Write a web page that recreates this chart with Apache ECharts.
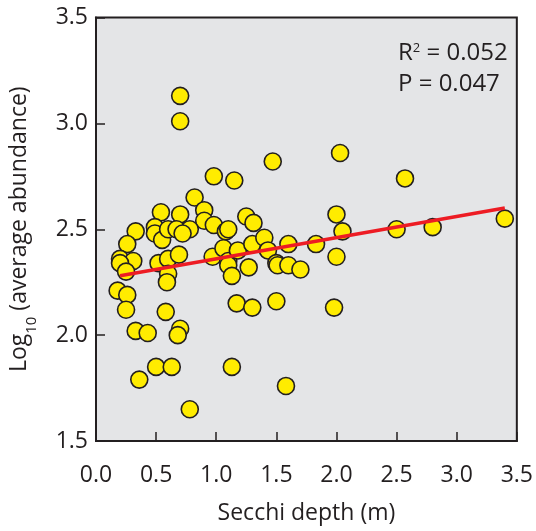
<!DOCTYPE html>
<html>
<head>
<meta charset="utf-8">
<script src="https://cdn.jsdelivr.net/npm/echarts@6/dist/echarts.min.js"></script>
<style>html,body{margin:0;padding:0;background:#fff}#c{width:536px;height:531px}</style>
</head>
<body>
<div id="c"></div>
<script>
// Secchi depth (m)
const secchi = [0.70,0.70,0.98,1.15,1.47,2.03,2.57,0.82,0.90,0.54,0.70,0.90,1.25,1.31,0.98,0.33,0.49,0.49,0.55,0.60,0.67,0.78,1.08,1.10,0.26,0.20,0.31,0.20,0.52,0.60,0.69,0.25,0.60,0.59,0.18,0.26,0.25,0.58,0.33,0.43,0.70,0.68,0.50,0.63,0.36,0.78,1.13,1.58,1.17,1.30,1.50,0.97,1.06,1.10,1.10,1.13,1.18,1.27,1.30,1.40,1.43,1.50,1.51,1.60,1.60,1.70,1.83,2.00,2.05,2.00,1.98,2.50,2.80,3.40,0.72];
// Log10 (average abundance)
const logAbundance = [3.13,3.01,2.75,2.73,2.82,2.86,2.74,2.65,2.59,2.58,2.57,2.54,2.56,2.53,2.52,2.49,2.51,2.48,2.45,2.50,2.50,2.50,2.49,2.50,2.43,2.36,2.35,2.34,2.34,2.36,2.38,2.30,2.29,2.25,2.21,2.19,2.12,2.11,2.02,2.01,2.03,2.00,1.85,1.85,1.79,1.65,1.85,1.76,2.15,2.13,2.16,2.37,2.41,2.35,2.33,2.28,2.40,2.32,2.43,2.46,2.40,2.34,2.33,2.43,2.33,2.31,2.43,2.57,2.49,2.37,2.13,2.50,2.51,2.55,2.48];
// regression line endpoints
const fitX = [0.2, 3.4];
const fitY = [2.28, 2.60];
const xTicks = [0.0,0.5,1.0,1.5,2.0,2.5,3.0,3.5];
const yTicks = [1.5,2.0,2.5,3.0,3.5];
const statR2 = '0.052';
const statP = '0.047';

const FONT = 'Open Sans';
const INK = '#231f20';
const chart = echarts.init(document.getElementById('c'), null, {renderer:'canvas'});
chart.setOption({
  animation:false,
  backgroundColor:'#ffffff',
  grid:{left:93,right:18,top:17.5,bottom:90,show:true,backgroundColor:'#e4e5e7',borderColor:INK,borderWidth:2},
  xAxis:{
    type:'value',min:0,max:3.5,interval:0.5,
    name:'Secchi depth (m)',nameLocation:'middle',nameGap:61,
    nameTextStyle:{fontFamily:FONT,fontSize:23,color:INK},
    axisLine:{show:true,lineStyle:{color:INK,width:2}},
    axisTick:{show:true,inside:true,length:9,lineStyle:{color:INK,width:1.5}},
    axisLabel:{fontFamily:FONT,fontSize:23,color:INK,margin:23,formatter:v=>v.toFixed(1),
      showMinLabel:true,showMaxLabel:true},
    splitLine:{show:false}
  },
  yAxis:{
    type:'value',min:1.5,max:3.5,interval:0.5,
    name:'{n|Log}{s|10}{n| (average abundance)}',nameLocation:'middle',nameGap:65,nameRotate:90,
    nameTextStyle:{rich:{n:{fontFamily:FONT,fontSize:23,color:INK},s:{fontFamily:FONT,fontSize:15,color:INK,verticalAlign:'bottom',padding:[0,0,-8,0]}}},
    axisLine:{show:true,lineStyle:{color:INK,width:2}},
    axisTick:{show:true,inside:true,length:9,lineStyle:{color:INK,width:1.5}},
    axisLabel:{fontFamily:FONT,fontSize:23,color:INK,margin:8,formatter:v=>v.toFixed(1)},
    splitLine:{show:false}
  },
  series:[
    {type:'scatter',data:secchi.map((x,i)=>[x,logAbundance[i]]),symbolSize:17,z:2,
     itemStyle:{color:'#ffec00',borderColor:INK,borderWidth:1.6,opacity:1}},
    {type:'line',data:fitX.map((x,i)=>[x,fitY[i]]),symbol:'none',z:3,
     lineStyle:{color:'#ed1c24',width:3.5}}
  ],
  graphic:[
    {type:'text',left:398,top:41,style:{rich:{n:{fontFamily:FONT,fontSize:24,fill:INK},s:{fontFamily:FONT,fontSize:13,fill:INK,padding:[0,0,10,0]}},
      text:'{n|R}{s|2}{n| = '+statR2+'}'}},
    {type:'text',left:398,top:72,style:{fontFamily:FONT,fontSize:24,fill:INK,text:'P = '+statP}}
  ]
});
</script>
</body>
</html>
